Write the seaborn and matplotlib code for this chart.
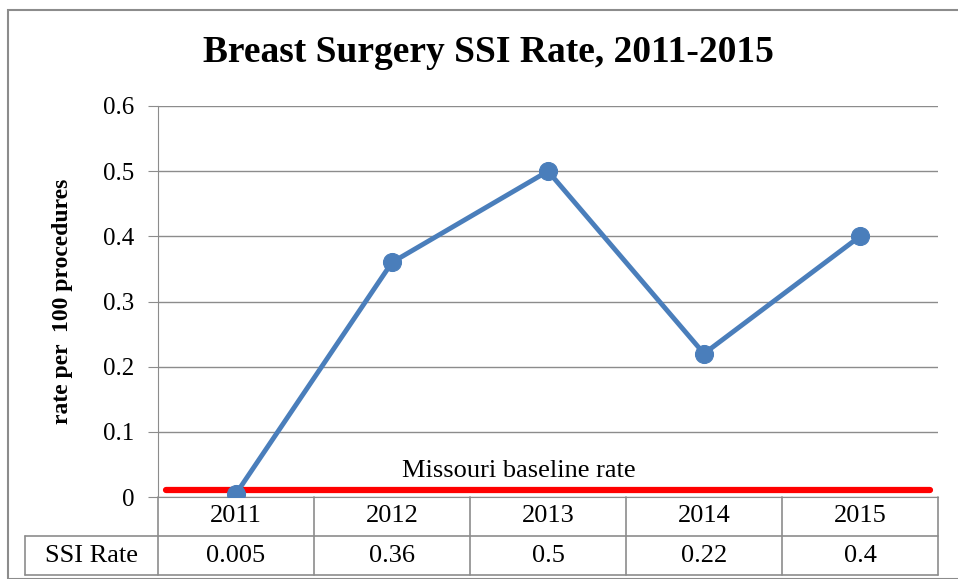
import numpy as np
import matplotlib
matplotlib.use("Agg")
import matplotlib.pyplot as plt
import pandas as pd
import seaborn as sns
from matplotlib.patches import Rectangle

# data
years = ["2011", "2012", "2013", "2014", "2015"]
ssi_rate = [0.005, 0.36, 0.5, 0.22, 0.4]
rate_labels = ["0.005", "0.36", "0.5", "0.22", "0.4"]
baseline_rate = 0.01
yticks = [0, 0.1, 0.2, 0.3, 0.4, 0.5, 0.6]

sns.set_style("white")
plt.rcParams["font.family"] = ["Liberation Serif", "DejaVu Serif"]
plt.rcParams["text.color"] = "black"
plt.rcParams["ytick.color"] = "black"

W, H = 958, 579
fig = plt.figure(figsize=(W / 100, H / 100), dpi=100)

# outer chart border (Excel chart area)
fig.patches.append(Rectangle((8 / W, 0), 1, 1 - 10 / H, transform=fig.transFigure,
                             fill=False, edgecolor="#8c8c8c", linewidth=1.5))

left, right, bottom, top = 158, 938, 497, 106
ax = fig.add_axes([left / W, 1 - bottom / H, (right - left) / W, (bottom - top) / H])

df = pd.DataFrame({"idx": np.arange(len(years)), "rate": ssi_rate})
sns.lineplot(data=df, x="idx", y="rate", ax=ax, color="#4A7EBB", linewidth=3.5,
             marker="o", markersize=13, markeredgecolor="#4A7EBB", zorder=5)

ax.axhline(baseline_rate, xmin=0.01, xmax=0.99, color="#ff0000", linewidth=4.5, zorder=4)
ax.text(1.81, 0.04, "Missouri baseline rate", ha="center", va="center", fontsize=19)

ax.set_xlim(-0.5, len(years) - 0.5)
ax.set_ylim(0, 0.6)
ax.set_yticks(yticks)
ax.set_yticklabels([f"{t:g}" for t in yticks], fontsize=18)
ax.set_xticks([])
ax.grid(axis="y", color="#8c8c8c", linewidth=1)
for s in ["top", "right"]:
    ax.spines[s].set_visible(False)
ax.spines["left"].set_color("#8c8c8c")
ax.spines["bottom"].set_color("#8c8c8c")
ax.tick_params(axis="y", left=True, length=7, color="#8c8c8c", labelcolor="black", pad=10)
ax.set_xlabel("")
ax.set_ylabel("rate per  100 procedures", fontsize=17, fontweight="bold", labelpad=22,
              color="black")

fig.text(488 / W, 1 - 52 / H, "Breast Surgery SSI Rate, 2011-2015", ha="center",
         va="center", fontsize=27, fontweight="bold")

# data table below the axis
tl, tb = 25, 575
cw = (right - left) / len(years)
tax = fig.add_axes([tl / W, 1 - tb / H, (right - tl) / W, (tb - bottom) / H])
tax.set_xlim(-0.5 - (left - tl) / cw, len(years) - 0.5)
tax.set_ylim(0, 2)
tax.axis("off")
lc = "#8c8c8c"
x0 = -0.5 - (left - tl) / cw
tax.plot([x0, len(years) - 0.5], [0, 0], color=lc, lw=1.2, clip_on=False)
tax.plot([x0, len(years) - 0.5], [1, 1], color=lc, lw=1.2, clip_on=False)
tax.plot([x0, x0], [0, 1], color=lc, lw=1.2, clip_on=False)
for i in range(len(years) + 1):
    tax.plot([i - 0.5, i - 0.5], [0, 2], color=lc, lw=1.2, clip_on=False)
for i, (yr, lab) in enumerate(zip(years, rate_labels)):
    tax.text(i, 1.5, yr, ha="center", va="center", fontsize=19)
    tax.text(i, 0.5, lab, ha="center", va="center", fontsize=19)
tax.text((x0 - 0.5) / 2, 0.5, "SSI Rate", ha="center", va="center", fontsize=19)

fig.savefig("out.png", dpi=100)
